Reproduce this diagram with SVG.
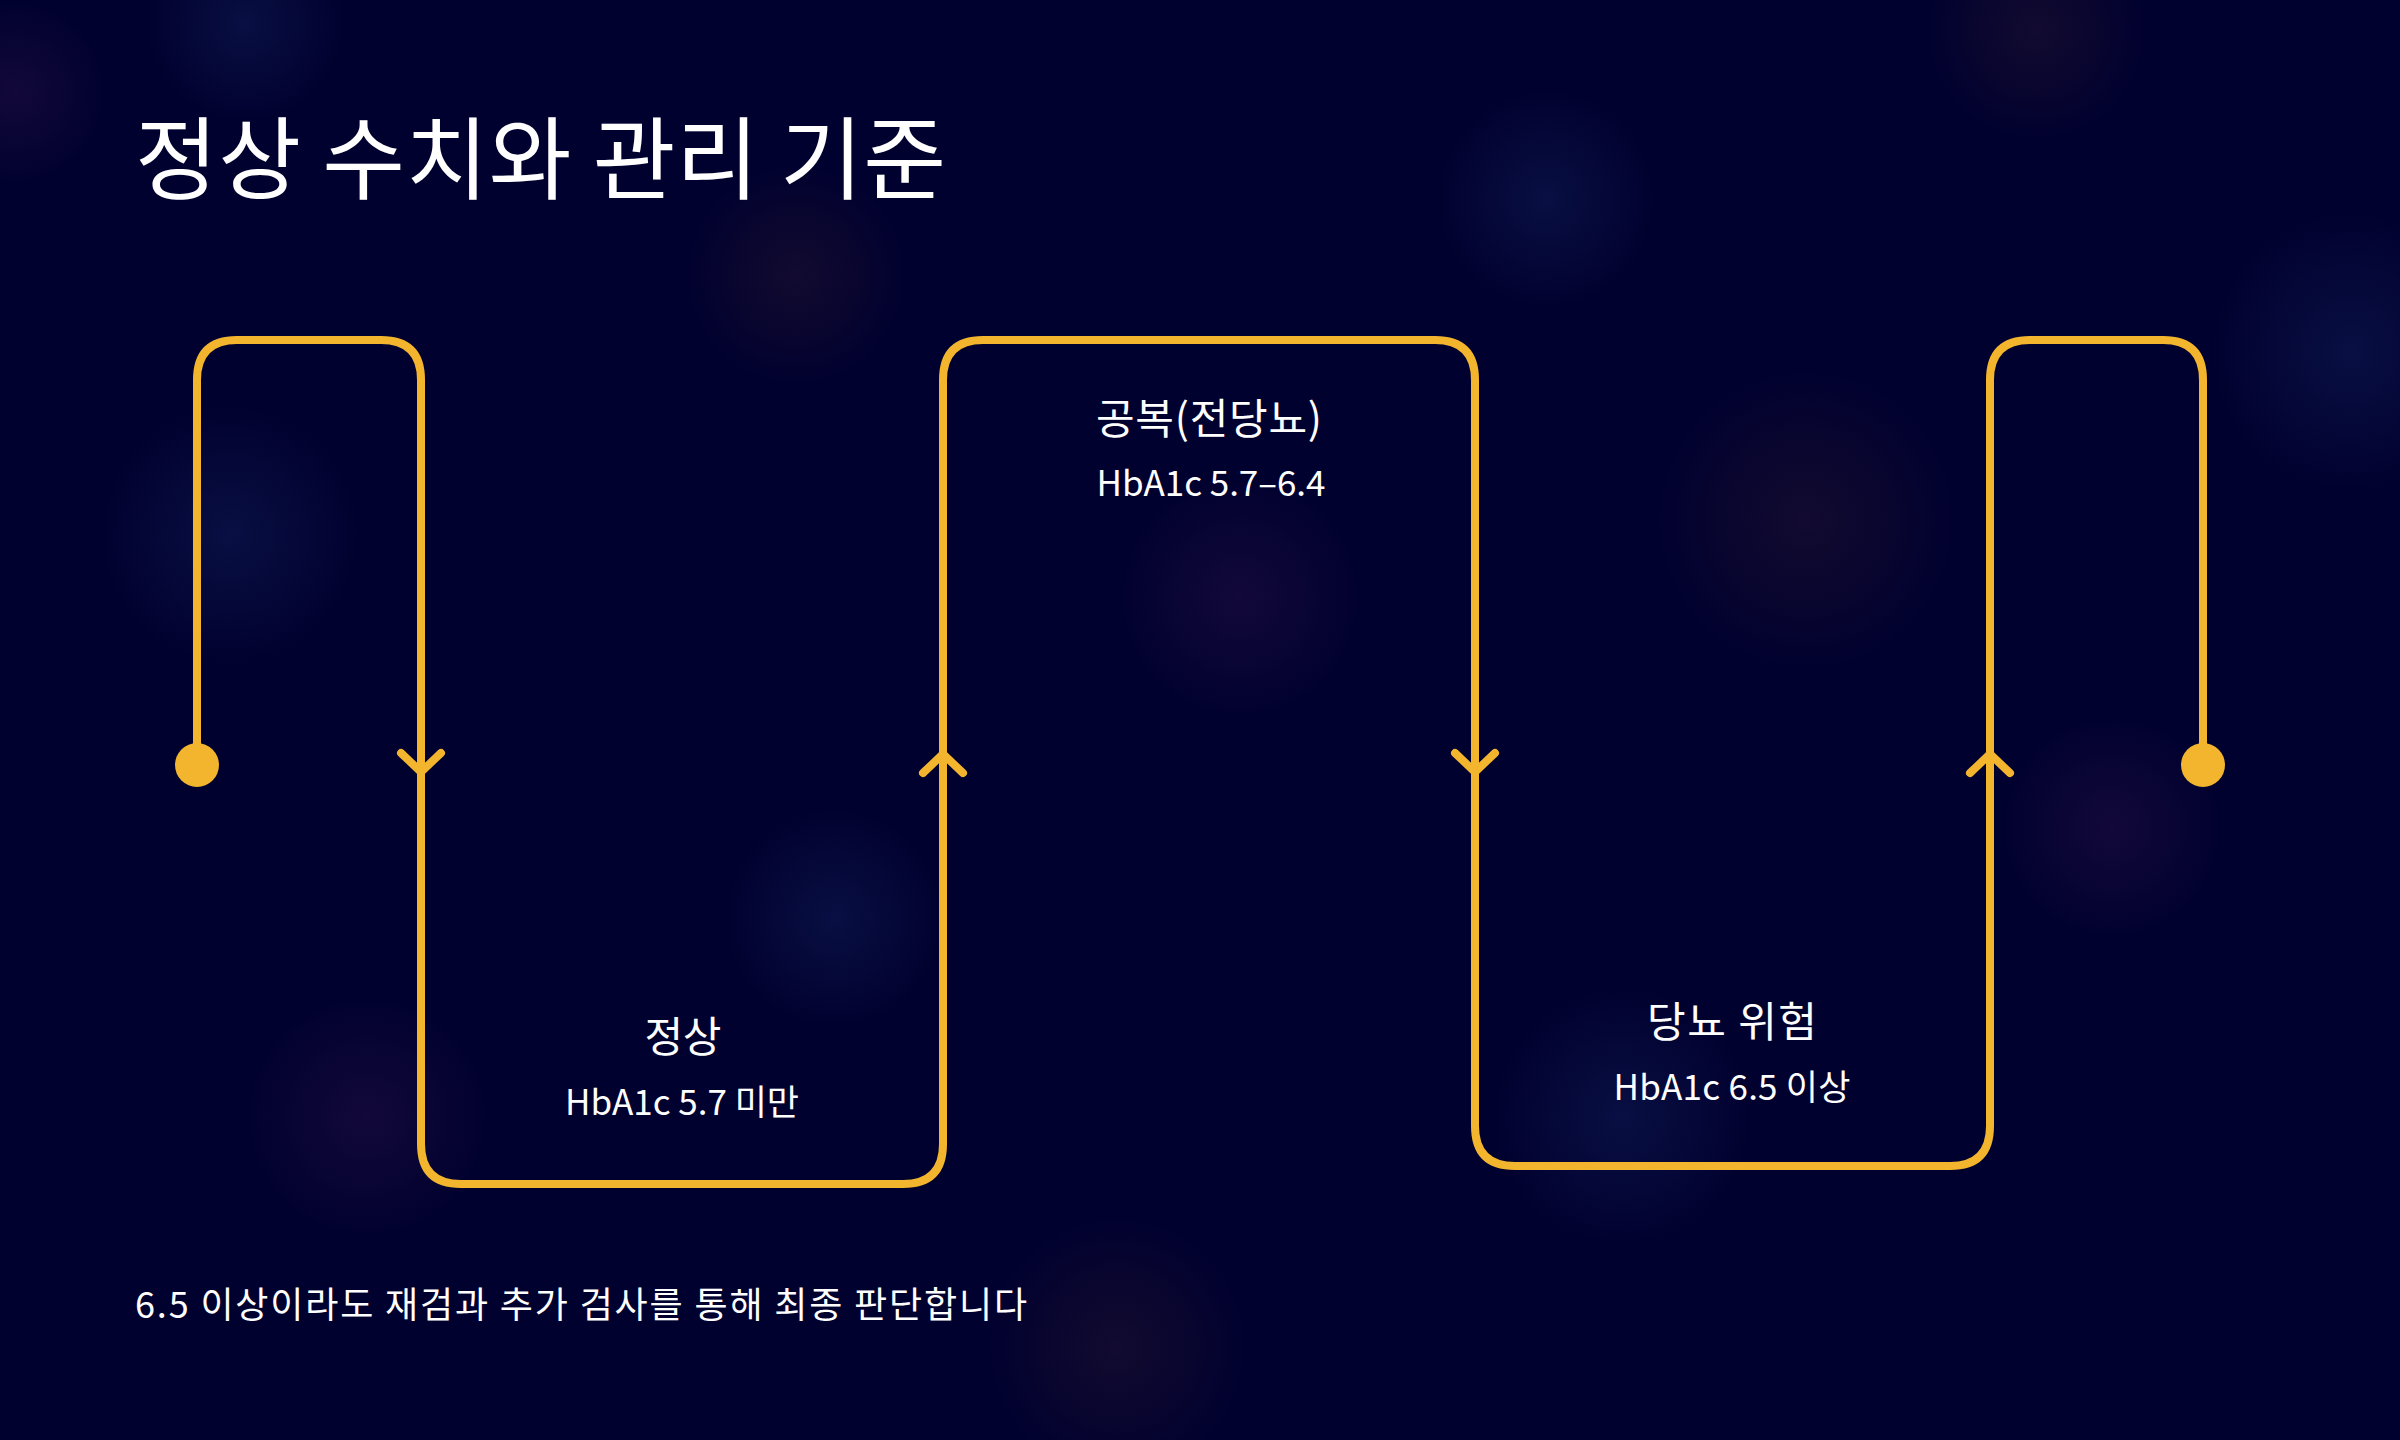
<svg xmlns="http://www.w3.org/2000/svg" width="2400" height="1440" viewBox="0 0 2400 1440">
<style>
.t{font-family:"Noto Sans CJK KR","Noto Sans",sans-serif;fill:#ffffff}
.title{font-size:90px}
.head{font-size:42px;text-anchor:middle}
.sub{font-size:35px;text-anchor:middle}
.note{font-size:36px}
.ln{fill:none;stroke:#f3b52d;stroke-width:8;stroke-linecap:round;stroke-linejoin:round}
.dot{fill:#f3b52d}
</style>
<defs>
<radialGradient id="gb"><stop offset="0" stop-color="#1a3070" stop-opacity="0.3"/><stop offset="1" stop-color="#1a3070" stop-opacity="0"/></radialGradient>
<radialGradient id="gp"><stop offset="0" stop-color="#3a1a50" stop-opacity="0.3"/><stop offset="1" stop-color="#3a1a50" stop-opacity="0"/></radialGradient>
<radialGradient id="gr"><stop offset="0" stop-color="#3a2030" stop-opacity="0.3"/><stop offset="1" stop-color="#3a2030" stop-opacity="0"/></radialGradient>
<path id="down" d="M-20,-19 L0,0 L20,-19"/>
<path id="up" d="M-20,19 L0,0 L20,19"/>
</defs>
<rect width="2400" height="1440" fill="#01012f"/>
<g id="background">
<circle cx="230" cy="535" r="130" fill="url(#gb)"/>
<circle cx="1240" cy="597" r="120" fill="url(#gp)"/>
<circle cx="1806" cy="520" r="150" fill="url(#gr)"/>
<circle cx="2350" cy="352" r="140" fill="url(#gb)"/>
<circle cx="1546" cy="199" r="110" fill="url(#gb)"/>
<circle cx="796" cy="275" r="110" fill="url(#gr)"/>
<circle cx="834" cy="918" r="110" fill="url(#gb)"/>
<circle cx="1622" cy="1117" r="130" fill="url(#gb)"/>
<circle cx="2112" cy="827" r="110" fill="url(#gp)"/>
<circle cx="367" cy="1117" r="120" fill="url(#gp)"/>
<circle cx="1117" cy="1347" r="130" fill="url(#gr)"/>
<circle cx="245" cy="23" r="100" fill="url(#gb)"/>
<circle cx="2036" cy="30" r="110" fill="url(#gr)"/>
<circle cx="15" cy="92" r="90" fill="url(#gp)"/>
</g>
<text class="t title" x="135" y="192" textLength="811" lengthAdjust="spacing">정상 수치와 관리 기준</text>
<g id="connectors">
<path class="ln" d="M197,765 L197,380 Q197,340 237,340 L381,340 Q421,340 421,380 L421,1144 Q421,1184 461,1184 L903,1184 Q943,1184 943,1144 L943,380 Q943,340 983,340 L1435,340 Q1475,340 1475,380 L1475,1126 Q1475,1166 1515,1166 L1950,1166 Q1990,1166 1990,1126 L1990,380 Q1990,340 2030,340 L2163,340 Q2203,340 2203,380 L2203,765"/>
<circle class="dot" cx="197" cy="765" r="22"/>
<circle class="dot" cx="2203" cy="765" r="22"/>
<use href="#down" class="ln" x="421" y="772"/>
<use href="#up" class="ln" x="943" y="754"/>
<use href="#down" class="ln" x="1475" y="772"/>
<use href="#up" class="ln" x="1990" y="754"/>
</g>
<g id="node-normal">
<text class="t head" x="683" y="1052" textLength="77" lengthAdjust="spacing">정상</text>
<text class="t sub" x="682" y="1115" textLength="234" lengthAdjust="spacing">HbA1c 5.7 미만</text>
</g>
<g id="node-prediabetes">
<text class="t head" x="1209" y="434" textLength="226" lengthAdjust="spacing">공복(전당뇨)</text>
<text class="t sub" x="1211" y="496" textLength="229" lengthAdjust="spacing">HbA1c 5.7–6.4</text>
</g>
<g id="node-diabetes">
<text class="t head" x="1732" y="1037" textLength="170" lengthAdjust="spacing">당뇨 위험</text>
<text class="t sub" x="1732" y="1100" textLength="237" lengthAdjust="spacing">HbA1c 6.5 이상</text>
</g>
<text class="t note" x="135" y="1318" textLength="892" lengthAdjust="spacing">6.5 이상이라도 재검과 추가 검사를 통해 최종 판단합니다</text>
</svg>
